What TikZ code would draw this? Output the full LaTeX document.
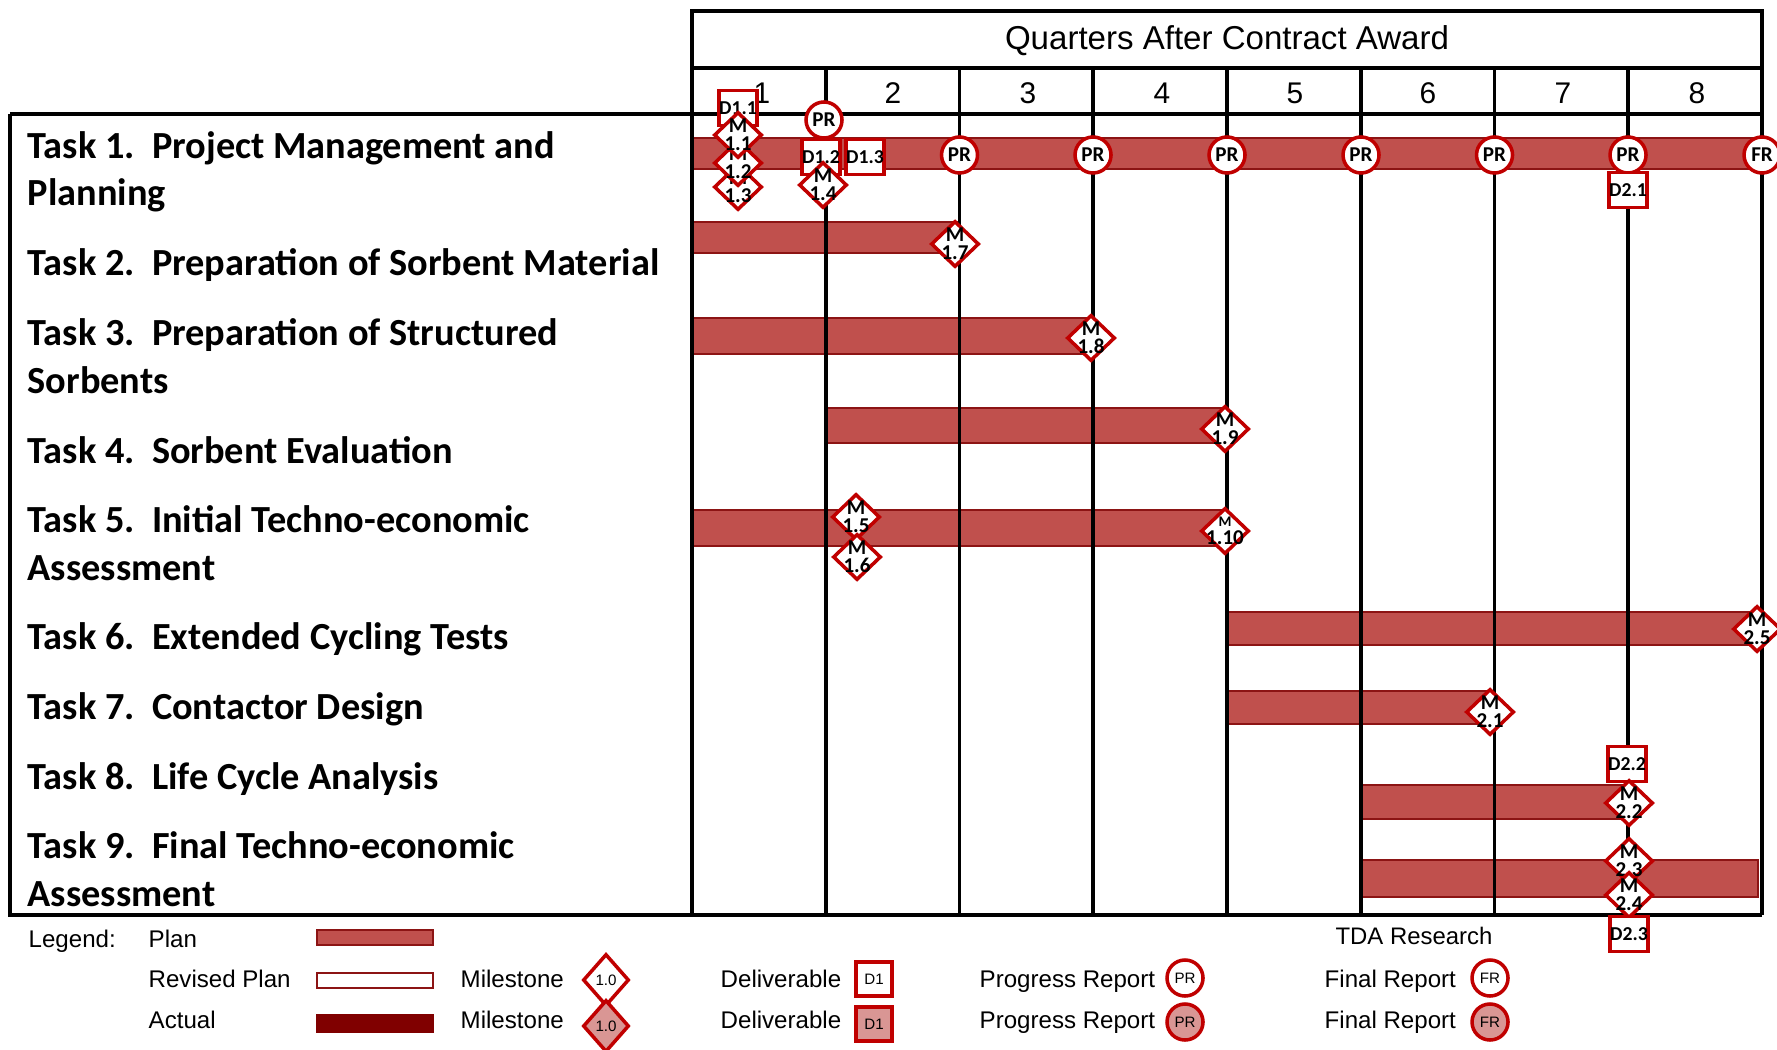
\documentclass[tikz,border=0pt]{standalone}
\usepackage{fontspec}
\setmainfont{Liberation Sans}
\newfontfamily\calibri{Carlito}
\usetikzlibrary{shapes.geometric,positioning}

\definecolor{barred}{RGB}{192,80,77}
\definecolor{baredge}{RGB}{140,20,20}
\definecolor{mkred}{RGB}{192,0,0}
\definecolor{actred}{RGB}{128,0,0}
\definecolor{donepink}{RGB}{217,150,148}

\tikzset{
  planbar/.style={draw=baredge, fill=barred, line width=0.6pt},
  gridline/.style={line width=0.9pt},
  mile/.style={diamond, draw=mkred, fill=white, line width=1pt, inner sep=-2pt,
    minimum width=0.48cm, minimum height=0.46cm, align=center,
    font=\calibri\bfseries\fontsize{6}{5}\selectfont},
  deliv/.style={rectangle, draw=mkred, fill=white, line width=1pt, inner sep=0pt,
    minimum width=0.38cm, minimum height=0.35cm,
    font=\calibri\bfseries\fontsize{5.6}{6}\selectfont},
  report/.style={circle, draw=mkred, fill=white, line width=1pt, inner sep=0pt,
    minimum size=0.36cm, font=\calibri\bfseries\fontsize{6}{6}\selectfont},
  tasklabel/.style={anchor=base west, align=left, inner sep=0pt,
    font=\calibri\bfseries\fontsize{10.9}{13.4}\selectfont},
  quarter/.style={anchor=base, font=\fontsize{8.5}{10}\selectfont},
  legtext/.style={anchor=base west, inner sep=0pt, font=\fontsize{6.85}{8}\selectfont},
  legsym/.style={font=\fontsize{4.3}{5}\selectfont}
}

\begin{document}
\begin{tikzpicture}[x=0.01cm, y=-0.01cm]
        \useasboundingbox (0,0) rectangle (1777,1049);

        % planned bars
        \draw[planbar] (692,138) rectangle (1762,169);
        \draw[planbar] (692,222) rectangle (960,253);
        \draw[planbar] (692,318) rectangle (1094,354);
        \draw[planbar] (826,408) rectangle (1227,443);
        \draw[planbar] (692,510) rectangle (1227,546);
        \draw[planbar] (1227,612) rectangle (1762,645);
        \draw[planbar] (1227,691) rectangle (1495,724);
        \draw[planbar] (1361,785) rectangle (1629,819);
        \draw[planbar] (1361,860) rectangle (1758,897);

        % frame and quarter lines
        \draw[gridline] (692,11) rectangle (1762,68);
        \draw[gridline] (10,114) -- (1762,114);
        \draw[gridline] (10,114) -- (10,915) -- (1762,915);
        \draw[gridline] (692,68) -- (692,915);
        \draw[gridline] (826,68) -- (826,915);
        \draw[gridline] (959.5,68) -- (959.5,915);
        \draw[gridline] (1093,68) -- (1093,915);
        \draw[gridline] (1227,68) -- (1227,915);
        \draw[gridline] (1361,68) -- (1361,915);
        \draw[gridline] (1494.5,68) -- (1494.5,915);
        \draw[gridline] (1628,68) -- (1628,915);
        \draw[gridline] (1762,68) -- (1762,915);

        \node[anchor=base, font=\fontsize{9.4}{11}\selectfont] (head) at (1227,50) {Quarters After Contract Award};
        \node[quarter] (q1) at (762,104) {1};
        \node[quarter] (q2) at (893,104) {2};
        \node[quarter] (q3) at (1028,104) {3};
        \node[quarter] (q4) at (1162,104) {4};
        \node[quarter] (q5) at (1295,104) {5};
        \node[quarter] (q6) at (1428,104) {6};
        \node[quarter] (q7) at (1563,104) {7};
        \node[quarter] (q8) at (1697,104) {8};

        % task names (base = last line)
        \node[tasklabel] (t1) at (27,206) {Task 1.\ \ Project Management and\\Planning};
        \node[tasklabel] (t2) at (27,276) {Task 2.\ \ Preparation of Sorbent Material};
        \node[tasklabel] (t3) at (27,393) {Task 3.\ \ Preparation of Structured\\Sorbents};
        \node[tasklabel] (t4) at (27,463) {Task 4.\ \ Sorbent Evaluation};
        \node[tasklabel] (t5) at (27,580) {Task 5.\ \ Initial Techno-economic\\Assessment};
        \node[tasklabel] (t6) at (27,649) {Task 6.\ \ Extended Cycling Tests};
        \node[tasklabel] (t7) at (27,719) {Task 7.\ \ Contactor Design};
        \node[tasklabel] (t8) at (27,789) {Task 8.\ \ Life Cycle Analysis};
        \node[tasklabel] (t9) at (27,906) {Task 9.\ \ Final Techno-economic\\Assessment};

        % task 1 markers
        \node[deliv] (d11) at (738,108) {D1.1};
        \node[mile] (m13) at (738,187) {M\\1.3};
        \node[mile] (m12) at (738,163) {M\\1.2};
        \node[mile] (m11) at (738,135) {M\\1.1};
        \node[report] (pr0) at (824,120) {PR};
        \node[deliv] (d12) at (821,157) {D1.2};
        \node[deliv] (d13) at (865,157) {D1.3};
        \node[mile] (m14) at (823,185) {M\\1.4};
        \node[report] (pr1) at (959.5,155) {PR};
        \node[report] (pr2) at (1093,155) {PR};
        \node[report] (pr3) at (1227,155) {PR};
        \node[report] (pr4) at (1361,155) {PR};
        \node[report] (pr5) at (1494.5,155) {PR};
        \node[report] (pr6) at (1628,155) {PR};
        \node[report] (fr) at (1762,155) {FR};
        \node[deliv] (d21) at (1628,190) {D2.1};

        % milestones of the other tasks
        \node[mile] (m17) at (955,244) {M\\1.7};
        \node[mile] (m18) at (1091,338) {M\\1.8};
        \node[mile] (m19) at (1225,429) {M\\1.9};
        \node[mile] (m15) at (856,517) {M\\1.5};
        \node[mile] (m16) at (857,557) {M\\1.6};
        \node[mile] (m110) at (1225,531) {{\fontsize{4.2}{4}\selectfont M}\\1.10};
        \node[mile] (m25) at (1757,629) {M\\2.5};
        \node[mile] (m21) at (1490,712) {M\\2.1};
        \node[deliv] (d22) at (1627,764) {D2.2};
        \node[mile] (m22) at (1629,803) {M\\2.2};
        \node[mile] (m23) at (1629,861) {M\\2.3};
        \node[mile] (m24) at (1629,895) {M\\2.4};
        \node[deliv] (d23) at (1629,934) {D2.3};

        % legend
        \node[legtext] (leg) at (28,947) {Legend:};
        \node[legtext] (lplan) at (148,947) {Plan};
        \node[legtext] (lrev) at (148,987) {Revised Plan};
        \node[legtext] (lact) at (148,1028) {Actual};
        \draw[planbar] (317,930) rectangle (433,945);
        \draw[draw=baredge, fill=white, line width=0.6pt] (317,973) rectangle (433,988);
        \draw[draw=actred, fill=actred] (317,1015) rectangle (433,1032);

        \node[legtext] (lms1) at (460,987) {Milestone};
        \node[legtext] (lms2) at (460,1028) {Milestone};
        \node[mile, legsym, minimum width=0.46cm, minimum height=0.52cm] (sym1) at (606,980) {1.0};
        \node[mile, legsym, fill=donepink, minimum width=0.46cm, minimum height=0.52cm] (sym2) at (606,1026) {1.0};

        \node[legtext] (ldl1) at (720,987) {Deliverable};
        \node[legtext] (ldl2) at (720,1028) {Deliverable};
        \node[deliv, legsym, minimum width=0.36cm, minimum height=0.34cm] (sym3) at (874,979) {D1};
        \node[deliv, legsym, fill=donepink, minimum width=0.36cm, minimum height=0.34cm] (sym4) at (874,1024) {D1};

        \node[legtext] (lpr1) at (979,987) {Progress Report};
        \node[legtext] (lpr2) at (979,1028) {Progress Report};
        \node[report, legsym] (sym5) at (1185,978) {PR};
        \node[report, legsym, fill=donepink] (sym6) at (1185,1022) {PR};

        \node[legtext] (lfr1) at (1324,987) {Final Report};
        \node[legtext] (lfr2) at (1324,1028) {Final Report};
        \node[report, legsym] (sym7) at (1490,978) {FR};
        \node[report, legsym, fill=donepink] (sym8) at (1490,1022) {FR};

        \node[anchor=base, font=\fontsize{6.8}{8}\selectfont] (tda) at (1414,944) {TDA Research};
    \end{tikzpicture}
\end{document}
